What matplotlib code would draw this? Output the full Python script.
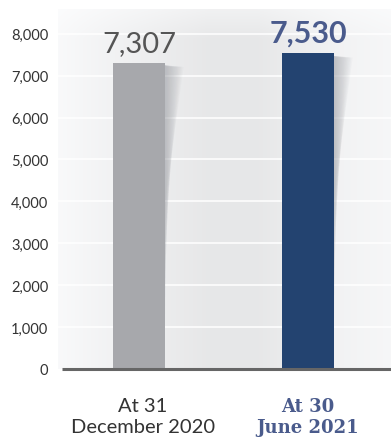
import numpy as np
import matplotlib
matplotlib.use("Agg")
import matplotlib.pyplot as plt
from matplotlib.patches import Polygon

categories = ["At 31\nDecember 2020", "At 30\nJune 2021"]
values = [7307, 7530]
value_labels = ["7,307", "7,530"]
yticks = [0, 1000, 2000, 3000, 4000, 5000, 6000, 7000, 8000]
ytick_labels = ["0", "1,000", "2,000", "3,000", "4,000", "5,000", "6,000", "7,000", "8,000"]

bar_colors = ["#a7a8ac", "#234370"]
label_colors = ["#555555", "#4a5b8c"]

fig = plt.figure(figsize=(3.91, 4.39), dpi=100)
ax = fig.add_axes([58/391, 69/439, 333/391, 360/439])
x = np.arange(len(values))
ax.set_xlim(-0.479, 1.491)
ax.set_ylim(0, 8590)

# background gradient
cols = np.array([0, 0.15, 0.45, 0.6, 0.85, 1.0])
vals = np.array([0.975, 0.95, 0.905, 0.905, 0.95, 0.965])
xs = np.linspace(0, 1, 400)
row = np.interp(xs, cols, vals)
ys = np.linspace(0, 1, 200)
vert = np.clip((1 - ys) / 0.08, 0, 1)
img = 1 - (1 - row[None, :]) * (0.6 + 0.4 * vert[:, None])
img = img[::-1]
img_rgb = np.dstack([img, img + 0.002, img + 0.006]).clip(0, 1)
ax.imshow(img_rgb, extent=[-0.479, 1.491, 0, 8590], aspect="auto", zorder=0,
          interpolation="bilinear")

for t in yticks[1:]:
    ax.axhline(t, color="white", lw=1.1, zorder=1)

width = 0.308
ax.bar(x, values, width=width, color=bar_colors, zorder=3)

# soft slanted shadows to the right of each bar
for xi, v in zip(x, values):
    r = xi + width / 2
    top = v - 60
    n = 14
    for k in range(n):
        frac = (k + 1) / n
        w = 0.11 * frac
        bottom = v * (0.55 - 0.45 * (1 - frac))
        poly = Polygon([(r, top), (r + w, top - 40), (r, bottom)],
                       closed=True, facecolor="#8f9299", edgecolor="none",
                       alpha=0.045, zorder=2)
        ax.add_patch(poly)

ax.text(x[0], values[0] + 170, value_labels[0], ha="center", va="bottom",
        fontsize=21, color=label_colors[0], family="Lato")
ax.text(x[1], values[1] + 170, value_labels[1], ha="center", va="bottom",
        fontsize=22, color=label_colors[1], family="Lato", fontweight="bold")

ax.set_yticks(yticks)
ax.set_yticklabels(ytick_labels, fontsize=10.5, color="#333333", family="Lato")
ax.tick_params(axis="y", length=0, pad=7)
ax.set_xticks([])
for s in ax.spines.values():
    s.set_visible(False)

# baseline
ax.plot([-0.455, 1.491], [0, 0], color="#666666", lw=2.2, zorder=4, clip_on=False,
        solid_capstyle="butt")

# x labels
fig.text(143/391, 1 - 407/439, "At 31", ha="center", va="center", fontsize=14.5,
         color="#333333", family="Lato")
fig.text(143/391, 1 - 428/439, "December 2020", ha="center", va="center", fontsize=14.5,
         color="#333333", family="Lato")
fig.text(308/391, 1 - 407/439, "At 30", ha="center", va="center", fontsize=13,
         color=label_colors[1], family="DejaVu Serif", fontweight="bold")
fig.text(308/391, 1 - 428/439, "June 2021", ha="center", va="center", fontsize=13,
         color=label_colors[1], family="DejaVu Serif", fontweight="bold")

fig.savefig("out.png", dpi=100)
